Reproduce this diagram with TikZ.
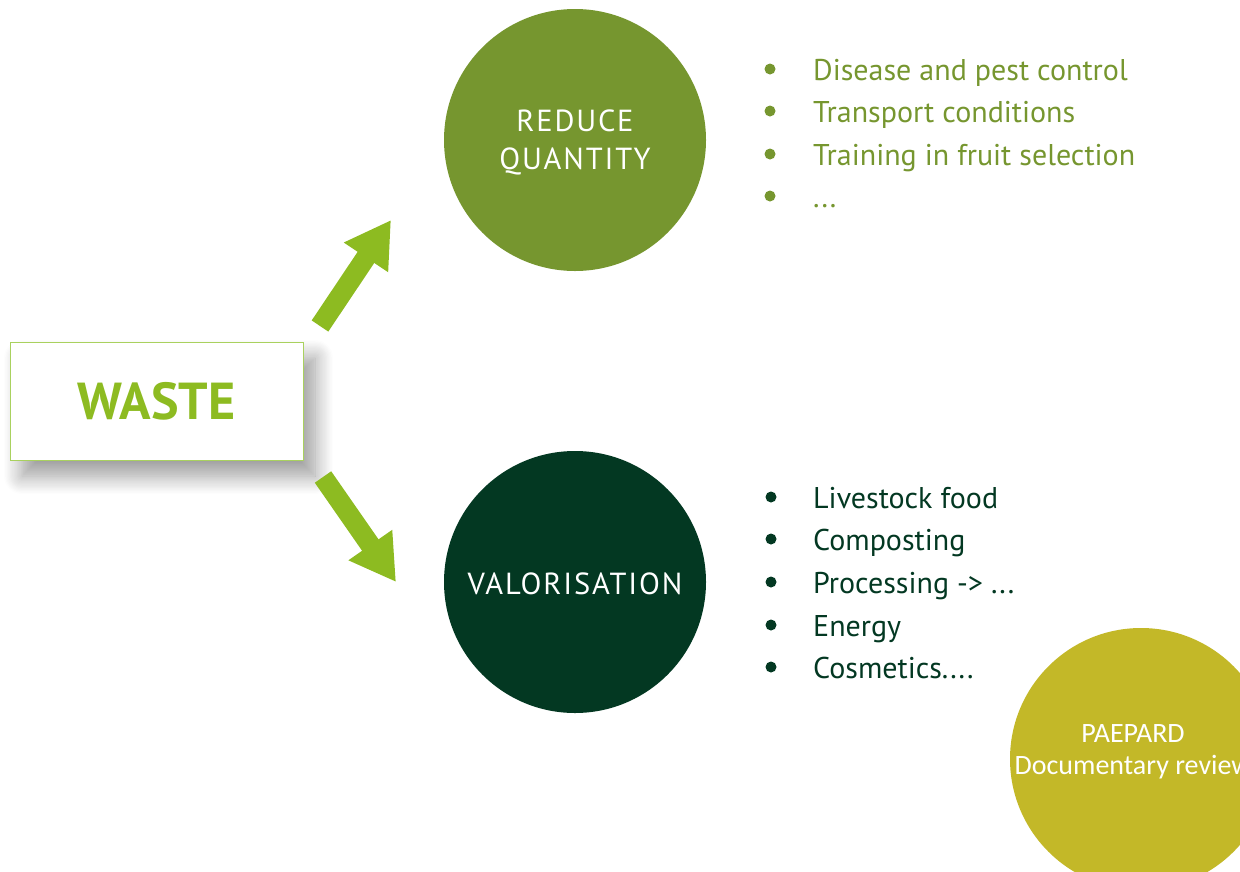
\documentclass[tikz,border=0pt]{standalone}
\usepackage{fontspec}
\setmainfont{PT Sans}
\newfontfamily\spaced[LetterSpace=6]{PT Sans}
\newfontfamily\calib{Carlito}
\usetikzlibrary{arrows.meta,shadows.blur}
\definecolor{lime}{HTML}{8DBB21}
\definecolor{limeborder}{HTML}{A9D15E}
\definecolor{olive}{HTML}{76962F}
\definecolor{darkgreen}{HTML}{033822}
\definecolor{mustard}{HTML}{C3B828}
\tikzset{
  circ/.style={circle, minimum size=262pt, inner sep=0pt},
  circtext/.style={text=white, align=center, inner sep=0pt, font=\spaced\fontsize{30.5}{38}\selectfont},
  bigarrow/.style={draw=lime, line width=20pt, -{Triangle[length=45pt,width=50pt]}},
  item/.style={anchor=base west, inner sep=0pt, font=\fontsize{30}{34}\selectfont},
  bul/.style={circle, inner sep=0pt, minimum size=11pt},
}
\begin{document}
\begin{tikzpicture}[x=1pt,y=-1pt]
\useasboundingbox (0,0) rectangle (1240,871);
\clip (0,0) rectangle (1240,871);
% waste box
\node[draw=limeborder, line width=1pt, fill=white, minimum width=293pt, minimum height=118pt, inner sep=0pt,
  blur shadow={shadow xshift=12pt, shadow yshift=-16pt, shadow blur radius=18pt, shadow blur steps=16, shadow opacity=40},
  text=lime, font=\bfseries\fontsize{52}{60}\selectfont] (waste) at (156.5,401) {WASTE};
% circles
\node[circ, fill=olive] (reduce) at (575,140) {};
\node[circtext] (reducet) at (575,142) {REDUCE\\QUANTITY};
\node[circ, fill=darkgreen] (valor) at (575,582) {};
\node[circtext] (valort) at (575,584) {VALORISATION};
\node[circ, fill=mustard] (paepard) at (1141,759) {};
\node[text=white, align=center, font=\calib\fontsize{28}{32}\selectfont, inner sep=0pt] (ptext) at (1133,752) {PAEPARD\\Documentary review};
% arrows
\coordinate (a1s) at (320,326);
\coordinate (a1e) at (391,220);
\coordinate (a2s) at (323,477);
\coordinate (a2e) at (396,582);
\draw[bigarrow] (a1s) -- (a1e);
\draw[bigarrow] (a2s) -- (a2e);
% upper list
\begin{scope}[text=olive]
\node[bul, fill=olive] (b1) at (770,69) {};
\node[bul, fill=olive] (b2) at (770,111) {};
\node[bul, fill=olive] (b3) at (770,154) {};
\node[bul, fill=olive] (b4) at (770,196) {};
\node[item] (t1) at (813,80) {Disease and pest control};
\node[item] (t2) at (813,122) {Transport conditions};
\node[item] (t3) at (813,165) {Training in fruit selection};
\node[item] (t4) at (813,207) {...};
\end{scope}
% lower list
\begin{scope}[text=darkgreen]
\node[bul, fill=darkgreen] (c1) at (771,497) {};
\node[bul, fill=darkgreen] (c2) at (771,539) {};
\node[bul, fill=darkgreen] (c3) at (771,582) {};
\node[bul, fill=darkgreen] (c4) at (771,625) {};
\node[bul, fill=darkgreen] (c5) at (771,667) {};
\node[item] (u1) at (813,508) {Livestock food};
\node[item] (u2) at (813,550) {Composting};
\node[item] (u3) at (813,593) {Processing -> ...};
\node[item] (u4) at (813,636) {Energy};
\node[item] (u5) at (813,678) {Cosmetics....};
\end{scope}
\end{tikzpicture}
\end{document}
